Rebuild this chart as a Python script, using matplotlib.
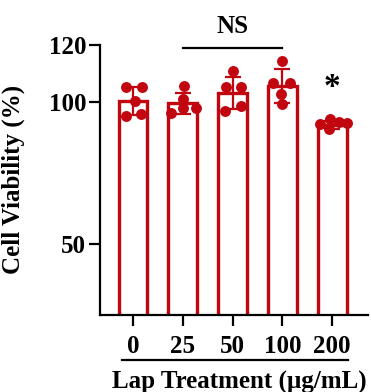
import matplotlib

matplotlib.use("Agg")
import matplotlib.pyplot as plt
import numpy as np

groups = ["0", "25", "50", "100", "200"]
means = [100.2, 99.4, 102.9, 105.4, 91.8]
sds = [4.8, 3.6, 5.6, 6.0, 1.3]
points = [
    [105.2, 105.2, 100.3, 95.1, 95.7],
    [105.5, 100.9, 96.0, 97.7, 97.7],
    [110.6, 105.2, 105.2, 96.8, 98.5],
    [114.3, 106.4, 106.4, 102.6, 99.1],
    [94.0, 92.2, 92.8, 92.6, 90.5],
]
jitter = [
    [-0.14, 0.19, 0.03, -0.14, 0.17],
    [0.03, 0.0, -0.24, 0.0, 0.27],
    [0.0, -0.14, 0.16, -0.16, 0.17],
    [0.0, -0.18, 0.15, -0.03, 0.0],
    [-0.05, -0.24, 0.13, 0.29, -0.07],
]

RED = "#C20610"
plt.rcParams["font.family"] = ["Liberation Serif", "DejaVu Serif"]
plt.rcParams["font.weight"] = "bold"

fig = plt.figure(figsize=(3.71, 3.92), dpi=100)
ax = fig.add_axes([0.27, 0.196, 0.722, 0.69])

x = np.arange(len(groups))
ax.bar(x, means, width=0.58, color="white", edgecolor=RED, linewidth=2.4, zorder=2)
ax.errorbar(x, means, yerr=sds, fmt="none", ecolor=RED, elinewidth=1.6,
            capsize=6, capthick=1.6, zorder=3)
for i in range(len(groups)):
    ax.scatter(x[i] + np.array(jitter[i]), points[i], s=62, color=RED,
               zorder=4, clip_on=False, linewidths=0)

ax.set_xlim(-0.66, 4.72)
ax.set_ylim(25, 120)
ax.set_yticks([50, 100, 120])
ax.set_xticks(x)
ax.set_xticklabels(groups)
ax.tick_params(axis="both", width=1.6, length=8, labelsize=18)
ax.tick_params(axis="x", pad=6)
ax.tick_params(axis="y", pad=2)
for s in ["top", "right"]:
    ax.spines[s].set_visible(False)
for s in ["left", "bottom"]:
    ax.spines[s].set_linewidth(1.6)

ax.set_ylabel("Cell Viability (%)", fontsize=18, fontweight="bold")
ax.yaxis.set_label_coords(-0.28, 0.5)

# NS bracket and significance star
ax.plot([1, 3], [118.9, 118.9], color="black", linewidth=1.6, clip_on=False)
ax.text(2, 126.3, "NS", ha="center", va="center", fontsize=18, fontweight="bold")
ax.text(4, 105, "*", ha="center", va="center", fontsize=24, fontweight="bold")

# underline and axis title
tr = ax.get_xaxis_transform()
ax.plot([-0.22, 4.32], [-0.166, -0.166], color="black", linewidth=1.6,
        transform=tr, clip_on=False)
ax.text(2.13, -0.247, "Lap Treatment (µg/mL)", transform=tr, ha="center",
        va="center", fontsize=18, fontweight="bold")

fig.savefig("out.png", dpi=100)
